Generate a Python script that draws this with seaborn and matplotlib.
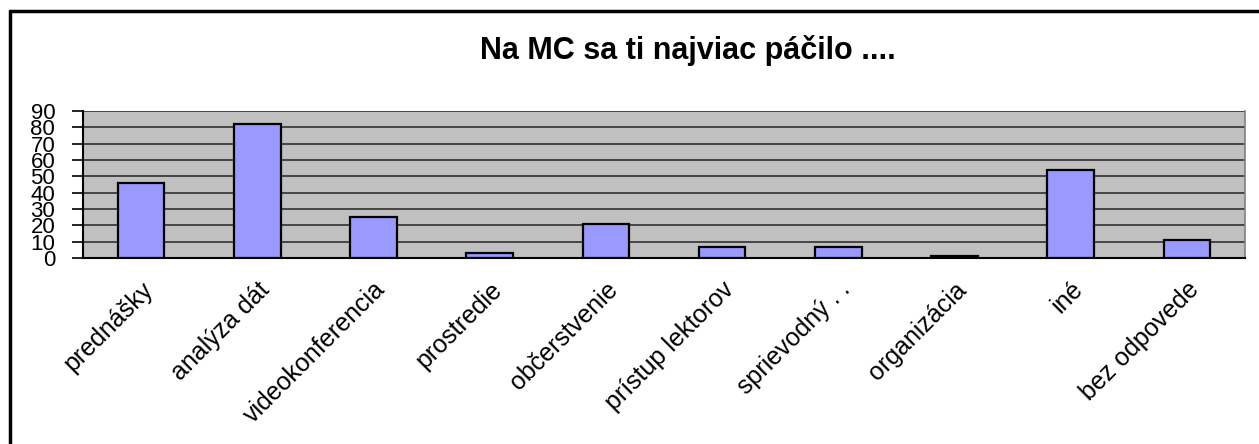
import matplotlib
matplotlib.use("Agg")
import matplotlib.pyplot as plt
import seaborn as sns
import pandas as pd
from matplotlib.lines import Line2D

# values
categories = ["prednášky", "analýza dát", "videokonferencia", "prostredie",
              "občerstvenie", "prístup lektorov", "sprievodný . .", "organizácia",
              "iné", "bez odpovede"]
counts = [46, 82, 25, 3, 21, 7, 7, 1, 54, 11]
y_ticks = list(range(0, 100, 10))
title = "Na MC sa ti najviac páčilo ...."

df = pd.DataFrame({"kategoria": categories, "pocet": counts})

sns.set_theme(style="white")
plt.rcParams["font.family"] = ["Liberation Sans", "DejaVu Sans"]
plt.rcParams["text.color"] = "black"
plt.rcParams["xtick.color"] = "black"
plt.rcParams["ytick.color"] = "black"

fig = plt.figure(figsize=(12.59, 4.44), dpi=100)
ax = fig.add_axes([83 / 1259, 1 - 258 / 444, (1245 - 83) / 1259, (258 - 111) / 444])
ax.set_facecolor("#c0c0c0")

sns.barplot(data=df, x="kategoria", y="pocet", color="#9999ff", saturation=1,
            width=0.4, edgecolor="black", linewidth=1.6, ax=ax, zorder=3)

ax.set_ylim(0, 90)
ax.set_xlim(-0.5, len(categories) - 0.5)
ax.set_yticks(y_ticks)
ax.set_yticklabels([str(t) for t in y_ticks], fontsize=16)
ax.yaxis.grid(True, color="#303030", linewidth=1.2, zorder=0)
ax.set_axisbelow(True)
ax.set_xlabel("")
ax.set_ylabel("")

# category ticks between bars like in excel
ax.set_xticks([i - 0.5 for i in range(len(categories) + 1)], minor=True)
ax.tick_params(axis="x", which="minor", length=8, width=1.2, color="black", direction="out")
ax.tick_params(axis="x", which="major", length=0, pad=14)
ax.tick_params(axis="y", length=8, width=1.2, color="black", direction="out", pad=12, left=True)
ax.set_xticks(range(len(categories)))
ax.set_xticklabels(categories, rotation=45, ha="right", va="top",
                   rotation_mode="anchor", fontsize=18)

for side in ["left", "bottom"]:
    ax.spines[side].set_color("black")
    ax.spines[side].set_linewidth(1.5)
ax.spines["top"].set_visible(False)
ax.spines["right"].set_color("#808080")
ax.spines["right"].set_linewidth(1.2)

fig.text(688 / 1259, 1 - 50 / 444, title, ha="center", va="center",
         fontsize=22, fontweight="bold")

# outer chart frame (left and top)
fig.add_artist(Line2D([10 / 1259, 10 / 1259], [0, 1 - 11 / 444], color="black", linewidth=2.5))
fig.add_artist(Line2D([10 / 1259, 1], [1 - 11 / 444, 1 - 11 / 444], color="black", linewidth=2.5))

fig.savefig("out.png", dpi=100)
